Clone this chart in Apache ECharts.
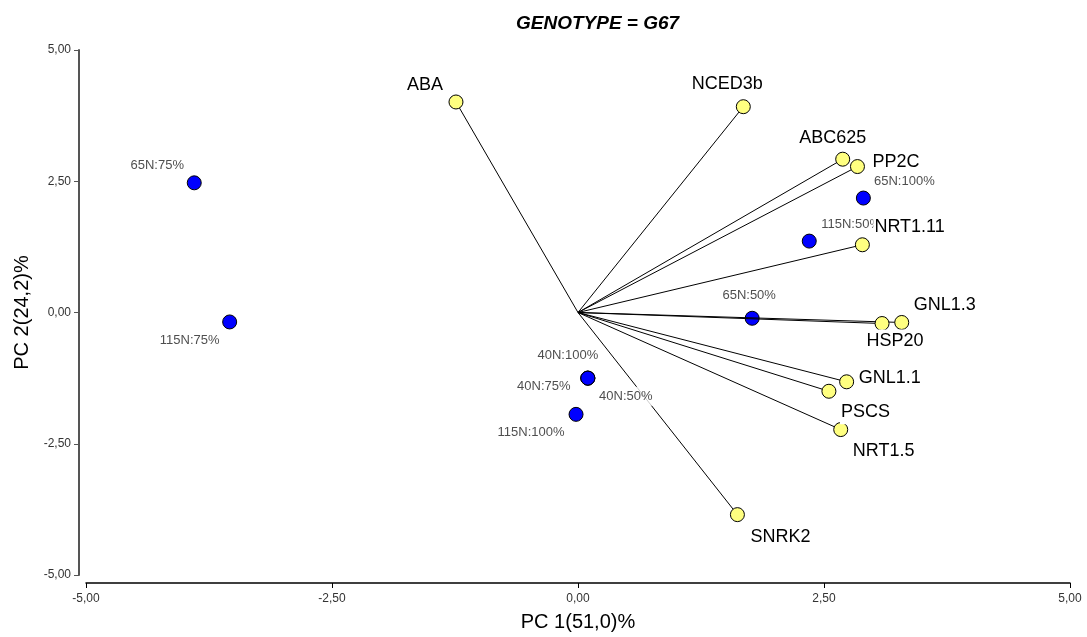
<!DOCTYPE html>
<html>
<head>
<meta charset="utf-8">
<script src="https://cdn.jsdelivr.net/npm/echarts@6/dist/echarts.min.js"></script>
<style>
  html, body { margin: 0; padding: 0; background: #fff; }
  #chart { width: 1087px; height: 637px; }
</style>
</head>
<body>
<div id="chart"></div>
<script>
// Variable loadings (biplot vectors)
const varNames = ['ABA', 'NCED3b', 'ABC625', 'PP2C', 'NRT1.11', 'GNL1.3', 'HSP20', 'GNL1.1', 'PSCS', 'NRT1.5', 'SNRK2'];
const varPC1 = [-1.24, 1.68, 2.69, 2.84, 2.89, 3.29, 3.09, 2.73, 2.55, 2.67, 1.62];
const varPC2 = [4.01, 3.92, 2.92, 2.78, 1.29, -0.19, -0.21, -1.32, -1.50, -2.23, -3.85];

// Treatment scores
const obsNames = ['65N:75%', '115N:75%', '65N:100%', '115N:50%', '65N:50%', '40N:75%', '40N:50%', '40N:100%', '115N:100%'];
const obsPC1 = [-3.90, -3.54, 2.90, 2.35, 1.77, 0.10, 0.10, 0.10, -0.02];
const obsPC2 = [2.47, -0.18, 2.18, 1.36, -0.11, -1.25, -1.25, -1.25, -1.94];

// Axis ticks
const xTicks = [-5, -2.5, 0, 2.5, 5];
const yTicks = [-5, -2.5, 0, 2.5, 5];

// Label placement: [align, dx, dy] relative to the marker centre
const varLabelPlace = {
  'ABA': ['right', -12, -17],
  'NCED3b': ['center', -16, -23],
  'ABC625': ['center', -10, -21],
  'PP2C': ['left', 14, -5],
  'NRT1.11': ['left', 11, -18],
  'GNL1.3': ['left', 11, -17],
  'HSP20': ['center', 13, 18],
  'GNL1.1': ['left', 11, -4],
  'PSCS': ['left', 11, 21],
  'NRT1.5': ['left', 11, 21],
  'SNRK2': ['left', 12, 22]
};
const obsLabelPlace = {
  '65N:75%': ['center', -37, -17.5],
  '115N:75%': ['center', -40, 18],
  '65N:100%': ['center', 41, -16.5],
  '115N:50%': ['left', 11, -16.5],
  '65N:50%': ['center', -3, -22.5],
  '40N:100%': ['center', -20, -23],
  '40N:75%': ['center', -44, 8],
  '40N:50%': ['center', 38, 18],
  '115N:100%': ['center', -45, 18]
};

const fmt = v => v.toFixed(2).replace('.', ',');
const FONT = 'Liberation Sans, Arial, sans-serif';

function labelFor(place, size, color) {
  return {
    show: true,
    position: 'inside',
    align: place[0],
    verticalAlign: 'middle',
    offset: [place[1], place[2]],
    fontFamily: FONT,
    fontSize: size,
    color: color,
    backgroundColor: '#fff',
    padding: [3, 1]
  };
}

const vectorData = varNames.map((n, i) => ({ coords: [[0, 0], [varPC1[i], varPC2[i]]] }));
const varData = varNames.map((n, i) => ({
  name: n, value: [varPC1[i], varPC2[i]],
  label: Object.assign(labelFor(varLabelPlace[n], 18, '#000'), { formatter: n })
}));
const obsData = obsNames.map((n, i) => ({ name: n, value: [obsPC1[i], obsPC2[i]] }));
const obsLabelData = obsNames.map((n, i) => ({
  name: n, value: [obsPC1[i], obsPC2[i]],
  label: Object.assign(labelFor(obsLabelPlace[n], 13, '#222'), { formatter: n })
}));

const chart = echarts.init(document.getElementById('chart'), null, { renderer: 'canvas' });
chart.setOption({
  animation: false,
  backgroundColor: '#fff',
  title: {
    text: 'GENOTYPE = G67',
    left: 511, top: 9,
    textStyle: { fontFamily: FONT, fontSize: 19, fontWeight: 'bold', fontStyle: 'italic', color: '#000' }
  },
  grid: { left: 86, right: 17, top: 50, bottom: 59, containLabel: false },
  xAxis: {
    type: 'value', min: xTicks[0], max: xTicks[xTicks.length - 1], interval: 2.5,
    offset: 8,
    name: 'PC 1(51,0)%', nameLocation: 'middle', nameGap: 29,
    nameTextStyle: { fontFamily: FONT, fontSize: 20, color: '#000' },
    axisLine: { show: true, onZero: false, lineStyle: { color: '#000', width: 1.5 } },
    axisTick: { show: true, length: 5, lineStyle: { color: '#000' } },
    axisLabel: { formatter: fmt, fontFamily: FONT, fontSize: 12, color: '#333', margin: 10 },
    splitLine: { show: false }
  },
  yAxis: {
    type: 'value', min: yTicks[0], max: yTicks[yTicks.length - 1], interval: 2.5,
    offset: 7,
    name: 'PC 2(24,2)%', nameLocation: 'middle', nameGap: 45,
    nameTextStyle: { fontFamily: FONT, fontSize: 20, color: '#000' },
    axisLine: { show: true, onZero: false, lineStyle: { color: '#555', width: 2 } },
    axisTick: { show: true, length: 5, lineStyle: { color: '#555' } },
    axisLabel: { formatter: fmt, fontFamily: FONT, fontSize: 12, color: '#333', margin: 8 },
    splitLine: { show: false }
  },
  series: [
    {
      // treatment markers
      type: 'scatter', z: 2, data: obsData,
      symbol: 'circle', symbolSize: 14,
      itemStyle: { color: '#0000ff', borderColor: '#000', borderWidth: 1, opacity: 1 },
      label: { show: false }, silent: true
    },
    {
      // loading vectors from the origin
      type: 'lines', coordinateSystem: 'cartesian2d', z: 3, data: vectorData,
      lineStyle: { color: '#000', width: 1, opacity: 1 },
      symbol: ['none', 'none'], silent: true
    },
    {
      // treatment labels
      type: 'scatter', z: 4, data: obsLabelData,
      symbol: 'circle', symbolSize: 1,
      itemStyle: { color: 'rgba(0,0,0,0)', borderWidth: 0 },
      silent: true
    },
    {
      // variable markers and labels
      type: 'scatter', z: 5, data: varData,
      symbol: 'circle', symbolSize: 14,
      itemStyle: { color: '#ffff80', borderColor: '#000', borderWidth: 1, opacity: 1 },
      silent: true
    }
  ]
});
</script>
</body>
</html>
